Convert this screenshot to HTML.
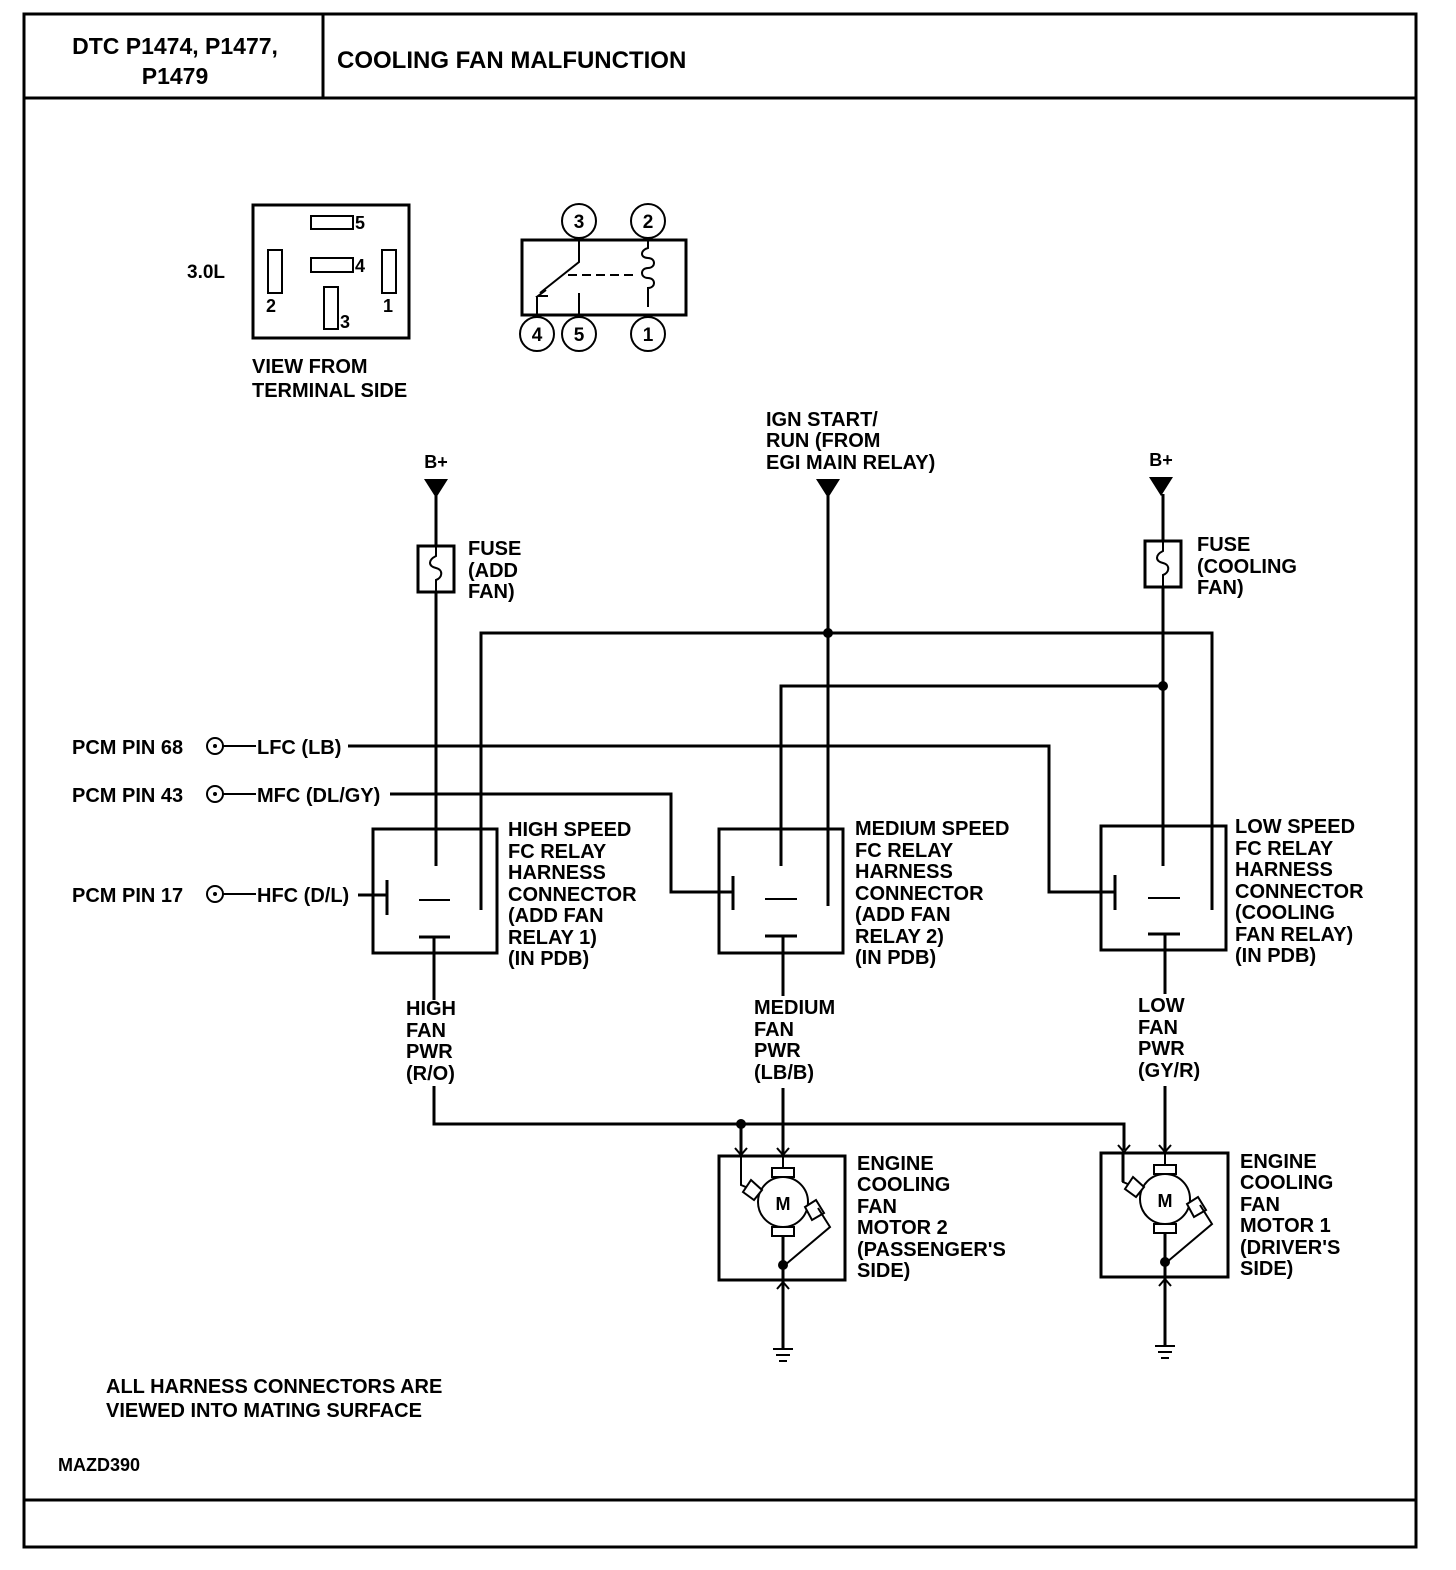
<!DOCTYPE html>
<html><head><meta charset="utf-8"><style>
html,body{margin:0;padding:0;background:#fff;}
svg{display:block}
text{font-family:"Liberation Sans",Arial,sans-serif;font-weight:bold;fill:#000;}
</style></head><body>
<svg width="1456" height="1570" viewBox="0 0 1456 1570" xmlns="http://www.w3.org/2000/svg" font-size="20">
<g fill="none" stroke="#000" stroke-width="3">
<rect x="24" y="14" width="1392" height="1533"/>
<line x1="24" y1="98" x2="1416" y2="98"/>
<line x1="323" y1="14" x2="323" y2="98"/>
<line x1="24" y1="1500" x2="1416" y2="1500"/>
</g>
<text x="175" y="54" text-anchor="middle" font-size="23">DTC P1474, P1477,</text>
<text x="175" y="84" text-anchor="middle" font-size="23">P1479</text>
<text x="337" y="68" font-size="24">COOLING FAN MALFUNCTION</text>

<!-- connector view -->
<g fill="none" stroke="#000" stroke-width="2">
<rect x="253" y="205" width="156" height="133" stroke-width="3"/>
<rect x="311" y="216" width="42" height="13"/>
<rect x="311" y="258" width="42" height="14"/>
<rect x="268" y="250" width="14" height="43"/>
<rect x="382" y="250" width="14" height="43"/>
<rect x="324" y="287" width="14" height="42"/>
</g>
<text x="355" y="229" font-size="18">5</text>
<text x="355" y="272" font-size="18">4</text>
<text x="266" y="312" font-size="18">2</text>
<text x="383" y="312" font-size="18">1</text>
<text x="340" y="328" font-size="18">3</text>
<text x="187" y="278" font-size="19">3.0L</text>
<text x="252" y="373">VIEW FROM</text>
<text x="252" y="397">TERMINAL SIDE</text>

<!-- relay symbol -->
<g fill="none" stroke="#000" stroke-width="2">
<rect x="522" y="240" width="164" height="75" stroke-width="3"/>
<circle cx="579" cy="221" r="17"/><circle cx="648" cy="221" r="17"/>
<circle cx="537" cy="334" r="17"/><circle cx="579" cy="334" r="17"/><circle cx="648" cy="334" r="17"/>
<polyline points="579,240 579,262 540,293"/>
<polyline points="546,290 538,296 548,296"/>
<line x1="537" y1="296" x2="537" y2="317"/>
<line x1="579" y1="293" x2="579" y2="317"/>
<line x1="568" y1="275" x2="636" y2="275" stroke-dasharray="9,5"/>
<path d="M648,240 v8 c-8,2 -8,10 0,10 c8,0 8,10 0,10 c-8,0 -8,10 0,10 c8,0 8,10 0,10 v19"/>
</g>
<text x="579" y="228" text-anchor="middle" font-size="19">3</text>
<text x="648" y="228" text-anchor="middle" font-size="19">2</text>
<text x="537" y="341" text-anchor="middle" font-size="19">4</text>
<text x="579" y="341" text-anchor="middle" font-size="19">5</text>
<text x="648" y="341" text-anchor="middle" font-size="19">1</text>

<!-- power sources -->
<text x="436" y="468" text-anchor="middle" font-size="18">B+</text>
<text x="1161" y="466" text-anchor="middle" font-size="18">B+</text>
<text x="766" y="426">IGN START/</text>
<text x="766" y="447">RUN (FROM</text>
<text x="766" y="469">EGI MAIN RELAY)</text>
<polygon points="424,479 448,479 436,498"/>
<polygon points="816,479 840,479 828,498"/>
<polygon points="1149,477 1173,477 1161,496"/>

<g fill="none" stroke="#000" stroke-width="3">
<rect x="418" y="546" width="36" height="46"/>
<rect x="1145" y="541" width="36" height="46"/>
</g>
<g fill="none" stroke="#000" stroke-width="2">
<path d="M436,546 v10 c-8,4 -8,10 0,12 c8,2 6,10 0,12 v12"/>
<path d="M1163,541 v10 c-8,4 -8,10 0,12 c8,2 6,10 0,12 v12"/>
</g>
<text x="468" y="555">FUSE</text><text x="468" y="577">(ADD</text><text x="468" y="598">FAN)</text>
<text x="1197" y="551">FUSE</text><text x="1197" y="573">(COOLING</text><text x="1197" y="594">FAN)</text>

<g fill="none" stroke="#000" stroke-width="3">
<line x1="436" y1="496" x2="436" y2="546"/>
<line x1="436" y1="592" x2="436" y2="866"/>
<line x1="828" y1="496" x2="828" y2="906"/>
<line x1="1163" y1="494" x2="1163" y2="541"/>
<line x1="1163" y1="587" x2="1163" y2="866"/>
<polyline points="481,910 481,633 1212,633 1212,910"/>
<polyline points="781,866 781,686 1163,686"/>
<polyline points="348,746 1049,746 1049,892 1115,892"/>
<polyline points="390,794 671,794 671,892 733,892"/>
<line x1="358" y1="895" x2="387" y2="895"/>
<rect x="373" y="829" width="124" height="124"/>
<rect x="719" y="829" width="124" height="124"/>
<rect x="1101" y="826" width="125" height="124"/>
<line x1="387" y1="880" x2="387" y2="915"/>
<line x1="733" y1="876" x2="733" y2="910"/>
<line x1="1115" y1="875" x2="1115" y2="910"/>
<line x1="419" y1="900" x2="450" y2="900" stroke-width="2"/>
<line x1="765" y1="899" x2="797" y2="899" stroke-width="2"/>
<line x1="1148" y1="898" x2="1180" y2="898" stroke-width="2"/>
<line x1="419" y1="937" x2="450" y2="937"/>
<line x1="765" y1="936" x2="797" y2="936"/>
<line x1="1148" y1="934" x2="1180" y2="934"/>
<line x1="434" y1="937" x2="434" y2="1000"/>
<line x1="783" y1="936" x2="783" y2="996"/>
<line x1="1165" y1="934" x2="1165" y2="994"/>
<polyline points="434,1086 434,1124 1124,1124 1124,1150"/>
<line x1="741" y1="1124" x2="741" y2="1155"/>
<line x1="783" y1="1088" x2="783" y2="1155"/>
<line x1="1165" y1="1086" x2="1165" y2="1152"/>
</g>
<g fill="#000">
<circle cx="828" cy="633" r="5"/>
<circle cx="1163" cy="686" r="5"/>
<circle cx="741" cy="1124" r="5"/>
</g>
<g fill="none" stroke="#000" stroke-width="2">
<polyline points="735,1148 741,1155 747,1148"/>
<polyline points="777,1148 783,1155 789,1148"/>
<polyline points="1118,1145 1124,1152 1130,1145"/>
<polyline points="1159,1145 1165,1152 1171,1145"/>
</g>

<text x="72" y="754">PCM PIN 68</text>
<text x="72" y="802">PCM PIN 43</text>
<text x="72" y="902">PCM PIN 17</text>
<g fill="none" stroke="#000" stroke-width="2">
<circle cx="215" cy="746" r="8"/><circle cx="215" cy="794" r="8"/><circle cx="215" cy="894" r="8"/>
<line x1="223" y1="746" x2="256" y2="746"/><line x1="223" y1="794" x2="256" y2="794"/><line x1="223" y1="894" x2="256" y2="894"/>
</g>
<g fill="#000"><circle cx="215" cy="746" r="2"/><circle cx="215" cy="794" r="2"/><circle cx="215" cy="894" r="2"/></g>
<text x="257" y="754">LFC (LB)</text>
<text x="257" y="802">MFC (DL/GY)</text>
<text x="257" y="902">HFC (D/L)</text>

<text x="508" y="836">HIGH SPEED</text><text x="508" y="858">FC RELAY</text><text x="508" y="879">HARNESS</text><text x="508" y="901">CONNECTOR</text><text x="508" y="922">(ADD FAN</text><text x="508" y="944">RELAY 1)</text><text x="508" y="965">(IN PDB)</text>
<text x="855" y="835">MEDIUM SPEED</text><text x="855" y="857">FC RELAY</text><text x="855" y="878">HARNESS</text><text x="855" y="900">CONNECTOR</text><text x="855" y="921">(ADD FAN</text><text x="855" y="943">RELAY 2)</text><text x="855" y="964">(IN PDB)</text>
<text x="1235" y="833">LOW SPEED</text><text x="1235" y="855">FC RELAY</text><text x="1235" y="876">HARNESS</text><text x="1235" y="898">CONNECTOR</text><text x="1235" y="919">(COOLING</text><text x="1235" y="941">FAN RELAY)</text><text x="1235" y="962">(IN PDB)</text>

<text x="406" y="1015">HIGH</text><text x="406" y="1037">FAN</text><text x="406" y="1058">PWR</text><text x="406" y="1080">(R/O)</text>
<text x="754" y="1014">MEDIUM</text><text x="754" y="1036">FAN</text><text x="754" y="1057">PWR</text><text x="754" y="1079">(LB/B)</text>
<text x="1138" y="1012">LOW</text><text x="1138" y="1034">FAN</text><text x="1138" y="1055">PWR</text><text x="1138" y="1077">(GY/R)</text>

<g fill="none" stroke="#000" stroke-width="3">
<rect x="719" y="1156" width="126" height="124"/>
<rect x="1101" y="1153" width="127" height="124"/>
</g>
<g id="m1" fill="none" stroke="#000" stroke-width="2">
<circle cx="783" cy="1202" r="25"/>
<rect x="772" y="1168" width="22" height="9" fill="#fff"/>
<rect x="772" y="1227" width="22" height="9" fill="#fff"/>
<polyline points="741,1155 741,1185 753,1190"/>
<polygon points="751,1180 762,1190 754,1200 743,1192" fill="#fff"/>
<polygon points="805,1207 816,1200 824,1213 812,1220" fill="#fff"/>
<polyline points="818,1208 830,1227 785,1265"/>
<line x1="783" y1="1155" x2="783" y2="1168"/>
<line x1="783" y1="1236" x2="783" y2="1348" stroke-width="3"/>
<polyline points="777,1289 783,1282 789,1289"/>
<line x1="773" y1="1349" x2="793" y2="1349"/><line x1="776" y1="1355" x2="790" y2="1355"/><line x1="779" y1="1361" x2="787" y2="1361"/>
</g>
<circle cx="783" cy="1265" r="5" fill="#000"/>
<use href="#m1" x="382" y="-3"/>
<circle cx="1165" cy="1262" r="5" fill="#000"/>
<g fill="none" stroke="#000" stroke-width="3"><line x1="1123" y1="1152" x2="1123" y2="1182"/></g>

<text x="857" y="1170">ENGINE</text><text x="857" y="1191">COOLING</text><text x="857" y="1213">FAN</text><text x="857" y="1234">MOTOR 2</text><text x="857" y="1256">(PASSENGER'S</text><text x="857" y="1277">SIDE)</text>
<text x="1240" y="1168">ENGINE</text><text x="1240" y="1189">COOLING</text><text x="1240" y="1211">FAN</text><text x="1240" y="1232">MOTOR 1</text><text x="1240" y="1254">(DRIVER'S</text><text x="1240" y="1275">SIDE)</text>
<text x="783" y="1210" text-anchor="middle" font-size="18">M</text>
<text x="1165" y="1207" text-anchor="middle" font-size="18">M</text>

<text x="106" y="1393">ALL HARNESS CONNECTORS ARE</text>
<text x="106" y="1417">VIEWED INTO MATING SURFACE</text>
<text x="58" y="1471" font-size="18">MAZD390</text>
</svg>
</body></html>
